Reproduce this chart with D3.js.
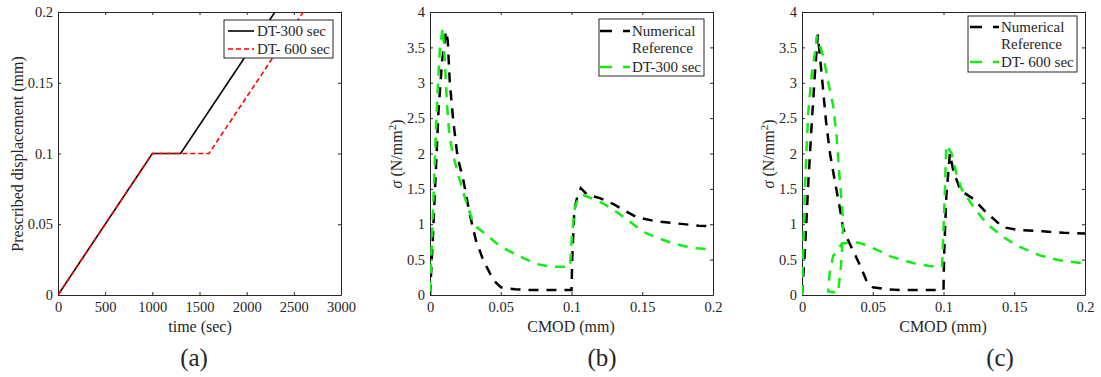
<!DOCTYPE html>
<html>
<head>
<meta charset="utf-8">
<script src="https://cdn.jsdelivr.net/npm/d3@7"></script>
<style>
  html, body { margin: 0; padding: 0; background: #fff; }
  svg { display: block; }
  text { font-family: "Liberation Serif", "Times New Roman", serif; fill: #262626; }
</style>
</head>
<body>
<svg id="chart" width="1101" height="377"></svg>
<script>
// ---------- DATA ----------
// Panel (a): prescribed displacement vs time
const timeDT300 = [0, 1000, 1300, 2300];
const dispDT300 = [0, 0.1, 0.1, 0.2];
const timeDT600 = [0, 1000, 1600, 2600];
const dispDT600 = [0, 0.1, 0.1, 0.2];

// Panel (b): sigma vs CMOD
const cmodRefB = [0, 0.002, 0.004, 0.006, 0.0085, 0.0113, 0.0125, 0.014, 0.0165, 0.0195, 0.0236, 0.028, 0.0325, 0.0375, 0.0448, 0.05, 0.06, 0.07, 0.1, 0.1005, 0.102, 0.104, 0.1066, 0.111, 0.12, 0.13, 0.137, 0.146, 0.16, 0.175, 0.19, 0.2];
const sigRefB  = [0, 0.8, 1.7, 2.6, 3.3, 3.73, 3.6, 3.0, 2.45, 1.95, 1.62, 1.15, 0.77, 0.5, 0.21, 0.11, 0.08, 0.07, 0.07, 0.5, 1.2, 1.38, 1.51, 1.42, 1.37, 1.28, 1.2, 1.1, 1.04, 1.01, 0.98, 0.97];
const cmodDT300 = [0, 0.0012, 0.0024, 0.0047, 0.007, 0.009, 0.0105, 0.012, 0.0135, 0.016, 0.02, 0.025, 0.03, 0.033, 0.04, 0.047, 0.055, 0.064, 0.075, 0.085, 0.099, 0.1005, 0.1026, 0.105, 0.1085, 0.115, 0.1226, 0.13, 0.137, 0.145, 0.153, 0.162, 0.17, 0.18, 0.189, 0.2];
const sigDT300  = [0.05, 0.7, 1.34, 2.6, 3.5, 3.78, 3.3, 2.7, 2.3, 2.0, 1.7, 1.35, 1.05, 0.96, 0.85, 0.73, 0.63, 0.54, 0.44, 0.4, 0.4, 0.9, 1.25, 1.38, 1.41, 1.36, 1.29, 1.2, 1.1, 0.98, 0.87, 0.8, 0.74, 0.69, 0.66, 0.64];

// Panel (c): sigma vs CMOD
const cmodRefC = [0, 0.002, 0.0045, 0.0068, 0.009, 0.0112, 0.014, 0.017, 0.0198, 0.0233, 0.027, 0.029, 0.032, 0.036, 0.041, 0.046, 0.05, 0.06, 0.07, 0.1, 0.1005, 0.102, 0.1045, 0.107, 0.112, 0.121, 0.13, 0.142, 0.152, 0.17, 0.185, 0.2];
const sigRefC  = [0, 0.6, 1.6, 2.4, 3.1, 3.68, 3.1, 2.45, 2.0, 1.6, 1.2, 0.95, 0.8, 0.63, 0.42, 0.18, 0.11, 0.08, 0.07, 0.07, 0.6, 1.4, 2.0, 1.75, 1.48, 1.36, 1.17, 0.96, 0.92, 0.9, 0.88, 0.87];
const cmodDT600 = [0, 0.0009, 0.0021, 0.0033, 0.0045, 0.0068, 0.0092, 0.0104, 0.015, 0.0186, 0.0221, 0.0245, 0.0262, 0.0285, 0.029, 0.0285, 0.0275, 0.0255, 0.0185, 0.0195, 0.022, 0.028, 0.034, 0.04, 0.0457, 0.055, 0.062, 0.07, 0.079, 0.09, 0.099, 0.1005, 0.102, 0.1058, 0.109, 0.113, 0.121, 0.1305, 0.142, 0.154, 0.168, 0.182, 0.2];
const sigDT600  = [0, 0.63, 1.54, 2.1, 2.6, 3.1, 3.43, 3.66, 3.38, 3.0, 2.67, 2.24, 1.75, 1.2, 1.0, 0.7, 0.4, 0.03, 0.05, 0.3, 0.55, 0.72, 0.75, 0.74, 0.7, 0.62, 0.55, 0.5, 0.45, 0.41, 0.4, 1.2, 2.12, 2.0, 1.72, 1.49, 1.25, 1.01, 0.82, 0.68, 0.56, 0.49, 0.445];

// Tick values
const timeTicks = [0, 500, 1000, 1500, 2000, 2500, 3000];
const dispTicks = [0, 0.05, 0.1, 0.15, 0.2];
const cmodTicks = [0, 0.05, 0.1, 0.15, 0.2];
const sigmaTicks = [0, 0.5, 1, 1.5, 2, 2.5, 3, 3.5, 4];

// ---------- DRAW ----------
const svg = d3.select("#chart");
const AX = "#262626";
const GREEN = "#11ee11";
const DASH = "10,8";
const FONT = '"Liberation Serif", "Times New Roman", serif';
const fmt = d => String(+(+d).toFixed(4));

function zip(xs, ys) { return xs.map((x, i) => [x, ys[i]]); }

function panel(opt) {
  const { left, right, top, bottom, xDomain, yDomain, xTicks, yTicks, id } = opt;
  const x = d3.scaleLinear().domain(xDomain).range([left, right]);
  const y = d3.scaleLinear().domain(yDomain).range([bottom, top]);
  const g = svg.append("g");

  svg.append("clipPath").attr("id", id).append("rect")
    .attr("x", left).attr("y", top).attr("width", right - left).attr("height", bottom - top);

  const styleAxis = sel => {
    sel.attr("font-family", FONT);
    sel.selectAll("path.domain").attr("stroke", AX).attr("stroke-width", 1);
    sel.selectAll(".tick line").attr("stroke", AX).attr("stroke-width", 1);
    sel.selectAll(".tick text").attr("fill", AX)
      .style("font-family", FONT)
      .style("font-size", "14.5px");
  };

  g.append("g").attr("transform", `translate(0,${bottom})`)
    .call(d3.axisBottom(x).tickValues(xTicks).tickFormat(fmt).tickSizeInner(-3).tickSizeOuter(0).tickPadding(7))
    .call(styleAxis);
  g.append("g").attr("transform", `translate(0,${top})`)
    .call(d3.axisTop(x).tickValues(xTicks).tickFormat("").tickSizeInner(-3).tickSizeOuter(0))
    .call(styleAxis);
  g.append("g").attr("transform", `translate(${left},0)`)
    .call(d3.axisLeft(y).tickValues(yTicks).tickFormat(fmt).tickSizeInner(-3).tickSizeOuter(0).tickPadding(5))
    .call(styleAxis);
  g.append("g").attr("transform", `translate(${right},0)`)
    .call(d3.axisRight(y).tickValues(yTicks).tickFormat("").tickSizeInner(-3).tickSizeOuter(0))
    .call(styleAxis);

  const lines = svg.append("g").attr("clip-path", `url(#${id})`);
  const line = d3.line().x(d => x(d[0])).y(d => y(d[1]));
  return { x, y, g, lines, line };
}

// ----- Panel (a)
const pa = panel({ id: "clipA", left: 58, right: 341, top: 12, bottom: 295,
  xDomain: [0, 3000], yDomain: [0, 0.2], xTicks: timeTicks, yTicks: dispTicks });
pa.lines.append("path").datum(zip(timeDT300, dispDT300)).attr("d", pa.line)
  .attr("fill", "none").attr("stroke", "#000").attr("stroke-width", 1.6);
pa.lines.append("path").datum(zip(timeDT600, dispDT600)).attr("d", pa.line)
  .attr("fill", "none").attr("stroke", "#ff0000").attr("stroke-width", 1.6).attr("stroke-dasharray", "5,3");

// ----- Panel (b)
const pb = panel({ id: "clipB", left: 430, right: 713, top: 12, bottom: 295,
  xDomain: [0, 0.2], yDomain: [0, 4], xTicks: cmodTicks, yTicks: sigmaTicks });
pb.lines.append("path").datum(zip(cmodRefB, sigRefB)).attr("d", pb.line)
  .attr("fill", "none").attr("stroke", "#000").attr("stroke-width", 2.5).attr("stroke-dasharray", DASH);
pb.lines.append("path").datum(zip(cmodDT300, sigDT300)).attr("d", pb.line)
  .attr("fill", "none").attr("stroke", GREEN).attr("stroke-width", 2.5).attr("stroke-dasharray", DASH);

// ----- Panel (c)
const pc = panel({ id: "clipC", left: 802, right: 1085, top: 12, bottom: 295,
  xDomain: [0, 0.2], yDomain: [0, 4], xTicks: cmodTicks, yTicks: sigmaTicks });
pc.lines.append("path").datum(zip(cmodRefC, sigRefC)).attr("d", pc.line)
  .attr("fill", "none").attr("stroke", "#000").attr("stroke-width", 2.5).attr("stroke-dasharray", DASH);
pc.lines.append("path").datum(zip(cmodDT600, sigDT600)).attr("d", pc.line)
  .attr("fill", "none").attr("stroke", GREEN).attr("stroke-width", 2.5).attr("stroke-dasharray", DASH);

// ----- Axis labels
function label(txt, x, y, size, rotate) {
  const t = svg.append("text").attr("text-anchor", "middle").style("font-size", size + "px")
    .style("font-family", FONT)
    .attr("transform", `translate(${x},${y})` + (rotate ? " rotate(-90)" : ""));
  if (typeof txt === "string") t.text(txt);
  else txt(t);
  return t;
}
label("time (sec)", 200, 332, 16);
label("CMOD (mm)", 571, 332, 16);
label("CMOD (mm)", 943, 332, 16);
label("Prescribed displacement (mm)", 23, 154, 16, true);
const sigmaLabel = t => {
  t.append("tspan").style("font-style", "italic").text("σ");
  t.append("tspan").text(" (N/mm");
  t.append("tspan").attr("baseline-shift", "super").style("font-size", "11px").text("2");
  t.append("tspan").text(")");
};
label(sigmaLabel, 402, 154, 16, true);
label(sigmaLabel, 774, 154, 16, true);
label("(a)", 194, 366, 25);
label("(b)", 602, 366, 25);
label("(c)", 1000, 366, 25);

// ----- Legends
function legend(box, entries) {
  const g = svg.append("g");
  g.append("rect").attr("x", box.x).attr("y", box.y).attr("width", box.w).attr("height", box.h)
    .attr("fill", "#fff").attr("stroke", AX).attr("stroke-width", 1);
  entries.forEach(e => {
    g.append("line").attr("x1", e.x1).attr("x2", e.x2).attr("y1", e.y).attr("y2", e.y)
      .attr("stroke", e.color).attr("stroke-width", e.width).attr("stroke-dasharray", e.dash || null);
    e.lines.forEach((s, i) => {
      g.append("text").attr("x", e.tx).attr("y", e.y + 5 + i * 17)
        .style("font-family", FONT).style("font-size", "15px").text(s);
    });
  });
}
legend({ x: 224, y: 20, w: 109, h: 38 }, [
  { x1: 228, x2: 254, y: 31, color: "#000", width: 1.6, tx: 257, lines: ["DT-300 sec"] },
  { x1: 228, x2: 254, y: 49, color: "#ff0000", width: 1.6, dash: "5,3", tx: 257, lines: ["DT- 600 sec"] }
]);
legend({ x: 599, y: 19, w: 105, h: 57 }, [
  { x1: 600, x2: 630, y: 31, color: "#000", width: 2.5, dash: "12,11", tx: 632, lines: ["Numerical", "Reference"] },
  { x1: 600, x2: 630, y: 67, color: GREEN, width: 2.5, dash: "12,11", tx: 632, lines: ["DT-300 sec"] }
]);
legend({ x: 968, y: 16, w: 109, h: 56 }, [
  { x1: 970, x2: 999, y: 27, color: "#000", width: 2.5, dash: "12,11", tx: 1001, lines: ["Numerical", "Reference"] },
  { x1: 970, x2: 999, y: 62, color: GREEN, width: 2.5, dash: "12,11", tx: 1001, lines: ["DT- 600 sec"] }
]);
</script>
</body>
</html>
